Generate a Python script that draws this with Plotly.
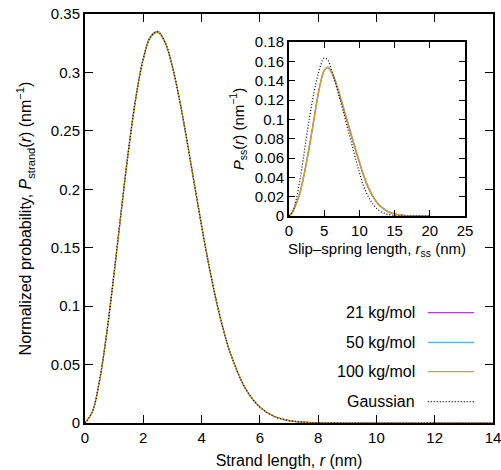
import plotly.graph_objects as go

# ---------------- data ----------------
r_strand = [0, 0.25, 0.5, 0.75, 1, 1.25, 1.5, 1.75, 2, 2.25, 2.5, 2.75, 3, 3.25, 3.5,
            3.75, 4, 4.25, 4.5, 4.75, 5, 5.5, 6, 6.5, 7, 7.5, 8, 9, 10, 12, 14]
p_strand_21 = [0, 0.0094, 0.0366, 0.0780, 0.1288, 0.1832, 0.2352, 0.2795, 0.3121, 0.3308,
               0.3352, 0.3258, 0.3049, 0.2757, 0.2413, 0.2046, 0.1685, 0.1348, 0.1050,
               0.0795, 0.0587, 0.0296, 0.0136, 0.0056, 0.0021, 0.0007, 0.0002, 0, 0, 0, 0]
p_strand_50 = [0, 0.0094, 0.0365, 0.0778, 0.1286, 0.1829, 0.2349, 0.2792, 0.3118, 0.3306,
               0.3350, 0.3257, 0.3049, 0.2758, 0.2414, 0.2048, 0.1688, 0.1351, 0.1052,
               0.0797, 0.0589, 0.0297, 0.0136, 0.0056, 0.0021, 0.0007, 0.0002, 0, 0, 0, 0]
p_strand_100 = [0, 0.0093, 0.0362, 0.0773, 0.1279, 0.1821, 0.2340, 0.2783, 0.3109, 0.3297,
                0.3340, 0.3251, 0.3046, 0.2758, 0.2416, 0.2051, 0.1691, 0.1354, 0.1055,
                0.0800, 0.0591, 0.0298, 0.0137, 0.0056, 0.0021, 0.0007, 0.0002, 0, 0, 0, 0]
p_strand_gauss = [0, 0.0094, 0.0364, 0.0777, 0.1284, 0.1827, 0.2346, 0.2789, 0.3116, 0.3304,
                  0.3347, 0.3255, 0.3048, 0.2758, 0.2415, 0.2049, 0.1689, 0.1352, 0.1053,
                  0.0798, 0.0589, 0.0297, 0.0136, 0.0056, 0.0021, 0.0007, 0.0002, 0, 0, 0, 0]

r_ss = [0, 0.5, 1, 1.5, 2, 2.5, 3, 3.5, 4, 4.5, 5, 5.5, 6, 6.5, 7, 7.5, 8, 8.5, 9, 9.5,
        10, 10.5, 11, 11.5, 12, 12.5, 13, 13.5, 14, 15, 16, 17, 18, 20]
p_ss_21 = [0, 0.004, 0.0125, 0.023, 0.0385, 0.057, 0.077, 0.099, 0.121, 0.139, 0.1505,
           0.1535, 0.149, 0.1405, 0.129, 0.117, 0.104, 0.092, 0.079, 0.067, 0.055, 0.0435,
           0.0335, 0.0255, 0.019, 0.0137, 0.0098, 0.007, 0.0046, 0.0022, 0.0009, 0.0003,
           0.0001, 0]
p_ss_50 = [0, 0.004, 0.012, 0.022, 0.037, 0.055, 0.075, 0.097, 0.119, 0.138, 0.150,
           0.154, 0.150, 0.142, 0.131, 0.119, 0.106, 0.094, 0.081, 0.069, 0.057, 0.045,
           0.035, 0.027, 0.020, 0.0145, 0.0105, 0.0075, 0.005, 0.0024, 0.001, 0.0003,
           0.0001, 0]
p_ss_100 = [0, 0.004, 0.012, 0.0225, 0.0375, 0.056, 0.076, 0.098, 0.120, 0.1385, 0.1505,
            0.154, 0.1495, 0.141, 0.130, 0.118, 0.105, 0.093, 0.080, 0.068, 0.056, 0.044,
            0.034, 0.026, 0.0195, 0.014, 0.010, 0.0072, 0.0048, 0.0023, 0.001, 0.0003,
            0.0001, 0]
p_ss_gauss = [0, 0.0045, 0.0165, 0.035, 0.058, 0.083, 0.106, 0.126, 0.143, 0.156, 0.1635,
              0.1615, 0.152, 0.140, 0.127, 0.114, 0.100, 0.086, 0.072, 0.058, 0.045, 0.033,
              0.024, 0.017, 0.0115, 0.0075, 0.0048, 0.003, 0.0018, 0.0005, 0.0001, 0, 0, 0]

series_names = ["21 kg/mol", "50 kg/mol", "100 kg/mol", "Gaussian"]
colors = ["#b040e0", "#56b4e9", "#e69f00", "#000000"]
dashes = ["solid", "solid", "solid", "1px,2px"]

main_x_ticks = [0, 2, 4, 6, 8, 10, 12, 14]
main_y_ticks = [0, 0.05, 0.1, 0.15, 0.2, 0.25, 0.3, 0.35]
main_y_ticklabels = ["0", "0.05", "0.1", "0.15", "0.2", "0.25", "0.3", "0.35"]
inset_x_ticks = [0, 5, 10, 15, 20, 25]
inset_y_ticks = [0, 0.02, 0.04, 0.06, 0.08, 0.1, 0.12, 0.14, 0.16, 0.18]
inset_y_ticklabels = ["0", "0.02", "0.04", "0.06", "0.08", "0.1", "0.12", "0.14", "0.16", "0.18"]

# ---------------- figure ----------------
FONT = "Liberation Sans, Arial, Helvetica, sans-serif"
fig = go.Figure()

main_sets = [p_strand_21, p_strand_50, p_strand_100, p_strand_gauss]
inset_sets = [p_ss_21, p_ss_50, p_ss_100, p_ss_gauss]

for name, col, dash, ys in zip(series_names, colors, dashes, main_sets):
    fig.add_trace(go.Scatter(x=r_strand, y=ys, mode="lines", name=name, showlegend=False,
                             line=dict(color=col, width=1.2, dash=dash, shape="spline"),
                             xaxis="x", yaxis="y"))
for name, col, dash, ys in zip(series_names, colors, dashes, inset_sets):
    fig.add_trace(go.Scatter(x=r_ss, y=ys, mode="lines", name=name, showlegend=False,
                             line=dict(color=col, width=1.2, dash=dash, shape="spline"),
                             xaxis="x2", yaxis="y2"))

axis_common = dict(showline=True, linecolor="black", linewidth=2, mirror="ticks",
                   ticks="inside", tickcolor="black", tickwidth=1, showgrid=False,
                   zeroline=False, ticklabeloverflow="allow",
                   tickfont=dict(size=15, color="black"))

fig.update_layout(
    width=501, height=470,
    margin=dict(l=85, r=8, t=14, b=47, autoexpand=False),
    paper_bgcolor="white", plot_bgcolor="white",
    font=dict(family=FONT, size=15, color="black"),
    showlegend=False,
    xaxis=dict(domain=[0, 1], range=[0, 14], tickvals=main_x_ticks, ticklen=8,
               automargin=False,
               title=dict(text="Strand length, <i>r</i> (nm)", font=dict(size=16), standoff=10),
               **axis_common),
    yaxis=dict(domain=[0, 1], range=[0, 0.35], tickvals=main_y_ticks,
               ticktext=main_y_ticklabels, ticklen=8, automargin=False,
               title=dict(text="Normalized probability, <i>P</i><sub>strand</sub>(<i>r</i>) (nm<sup>−1</sup>)",
                          font=dict(size=16), standoff=15),
               **axis_common),
    xaxis2=dict(domain=[0.5, 0.9314], anchor="y2", range=[0, 25], tickvals=inset_x_ticks,
                ticklen=6, automargin=False,
                title=dict(text="Slip–spring length, <i>r</i><sub>ss</sub> (nm)",
                           font=dict(size=15), standoff=5),
                **axis_common),
    yaxis2=dict(domain=[0.506, 0.9315], anchor="x2", range=[0, 0.18], tickvals=inset_y_ticks,
                ticktext=inset_y_ticklabels, ticklen=6, automargin=False,
                title=dict(text="<i>P</i><sub>ss</sub>(<i>r</i>) (nm<sup>−1</sup>)",
                           font=dict(size=15), standoff=7),
                **axis_common),
)

# legend (text on the left, line sample on the right, as in the reference)
legend_rows_y = [0.2697, 0.1973, 0.1254, 0.0521]
for name, col, dash, yy in zip(series_names, colors, dashes, legend_rows_y):
    fig.add_annotation(x=0.813, y=yy, xref="paper", yref="paper", text=name,
                       showarrow=False, xanchor="right", yanchor="middle",
                       font=dict(size=16, color="black"))
    fig.add_shape(type="line", xref="paper", yref="paper", x0=0.840, x1=0.954,
                  y0=yy, y1=yy, line=dict(color=col, width=1.2, dash=dash))

fig.write_html("out.html", config={"displayModeBar": False},
               post_script="document.body.style.margin='0';document.body.style.padding='0';")
